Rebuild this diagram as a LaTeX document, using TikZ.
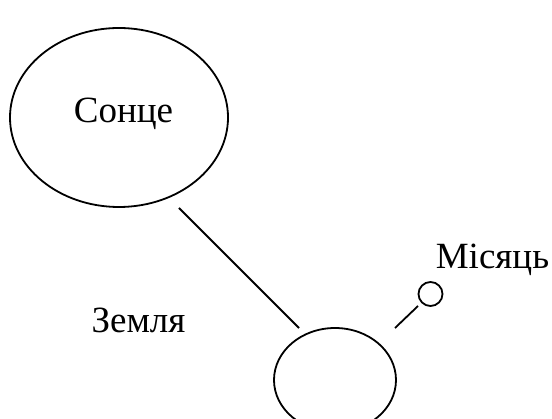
\documentclass[tikz,border=0pt]{standalone}
\usepackage{fontspec}
\setmainfont{Liberation Serif}
\usetikzlibrary{shapes.geometric}
\begin{document}
\begin{tikzpicture}[x=1pt,y=-1pt,
  body/.style={draw,ellipse,line width=1.8pt,inner sep=0pt},
  lbl/.style={anchor=base,inner sep=0pt,font=\fontsize{37}{40}\selectfont},
  link/.style={line width=1.8pt}]
\useasboundingbox (0,0) rectangle (552,419);
\clip (0,0) rectangle (552,419);
\node[body,minimum width=218pt,minimum height=179pt] (sun) at (119,117.5) {};
\node[lbl] (sunlabel) at (123.5,123) {Сонце};
\node[body,minimum width=122pt,minimum height=104pt] (earth) at (335,380) {};
\node[lbl] (earthlabel) at (138.5,333) {Земля};
\node[draw,circle,line width=1.8pt,minimum size=24pt,inner sep=0pt] (moon) at (430.5,294) {};
\node[lbl] (moonlabel) at (492.5,269) {Місяць};
\coordinate (s1) at (179,208);
\coordinate (s2) at (299,328);
\coordinate (m1) at (395,328);
\coordinate (m2) at (418,306);
\draw[link] (s1) -- (s2);
\draw[link] (m1) -- (m2);
\end{tikzpicture}
\end{document}
